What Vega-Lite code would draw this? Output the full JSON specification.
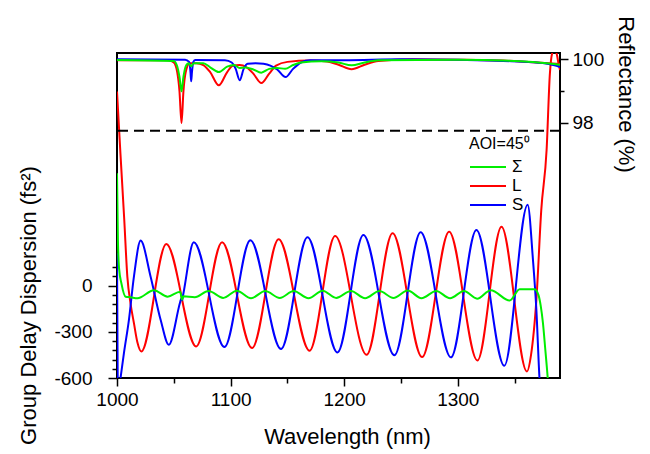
{
  "$schema": "https://vega.github.io/schema/vega-lite/v6.json",
  "width": 443,
  "height": 325,
  "autosize": "none",
  "padding": {"left": 117, "top": 53, "right": 90, "bottom": 76},
  "background": "white",
  "config": {
    "view": {"stroke": "black", "strokeWidth": 2},
    "font": "Liberation Sans",
    "axis": {
      "domain": false, "grid": false, "tickColor": "black", "tickWidth": 1.5,
      "labelColor": "black", "titleColor": "black", "labelFont": "Liberation Sans",
      "titleFont": "Liberation Sans", "titleFontWeight": "normal", "labelFontSize": 19,
      "titleFontSize": 22, "labelFlush": false, "labelOverlap": false
    }
  },
  "datasets": {
    "gdd": [
      {"wl": 1000, "s": "L", "v": 1260}, {"wl": 1003, "s": "L", "v": 860}, {"wl": 1006.4, "s": "L", "v": 426}, {"wl": 1009.1, "s": "L", "v": 58}, {"wl": 1012, "s": "L", "v": -120}, {"wl": 1014.9, "s": "L", "v": -244}, {"wl": 1018, "s": "L", "v": -370}, {"wl": 1021.4, "s": "L", "v": -428}, {"wl": 1043.4, "s": "L", "v": 270}, {"wl": 1069.7, "s": "L", "v": -395}, {"wl": 1092.5, "s": "L", "v": 281}, {"wl": 1118.9, "s": "L", "v": -406}, {"wl": 1142.3, "s": "L", "v": 300}, {"wl": 1169.5, "s": "L", "v": -423}, {"wl": 1192, "s": "L", "v": 322}, {"wl": 1219.8, "s": "L", "v": -449}, {"wl": 1242.6, "s": "L", "v": 340}, {"wl": 1268.6, "s": "L", "v": -464}, {"wl": 1292.4, "s": "L", "v": 350}, {"wl": 1317.3, "s": "L", "v": -486}, {"wl": 1338.5, "s": "L", "v": 382}, {"wl": 1360.9, "s": "L", "v": -557}, {"wl": 1364.5, "s": "L", "v": -450}, {"wl": 1369.2, "s": "L", "v": -93}, {"wl": 1373.5, "s": "L", "v": 490}, {"wl": 1378.2, "s": "L", "v": 880}, {"wl": 1381.1, "s": "L", "v": 1376}, {"wl": 1383, "s": "L", "v": 1505}, {"wl": 1385.5, "s": "L", "v": 1540}, {"wl": 1387.5, "s": "L", "v": 1490}, {"wl": 1388.5, "s": "L", "v": 1450}, {"wl": 1390, "s": "L", "v": 1400},
      {"wl": 1000, "s": "S", "v": 210}, {"wl": 1000.6, "s": "S", "v": -600}, {"wl": 1001.8, "s": "S", "v": -680}, {"wl": 1003.3, "s": "S", "v": -590}, {"wl": 1006.1, "s": "S", "v": -438}, {"wl": 1010.5, "s": "S", "v": -222}, {"wl": 1014.9, "s": "S", "v": 58}, {"wl": 1020.8, "s": "S", "v": 292}, {"wl": 1029.6, "s": "S", "v": 58}, {"wl": 1038.4, "s": "S", "v": -222}, {"wl": 1045.6, "s": "S", "v": -384}, {"wl": 1055.5, "s": "S", "v": -110}, {"wl": 1056.5, "s": "S", "v": -85}, {"wl": 1057.3, "s": "S", "v": -95}, {"wl": 1058.5, "s": "S", "v": -50}, {"wl": 1067.6, "s": "S", "v": 281}, {"wl": 1094.6, "s": "S", "v": -399}, {"wl": 1117.4, "s": "S", "v": 294}, {"wl": 1144.4, "s": "S", "v": -412}, {"wl": 1167.7, "s": "S", "v": 313}, {"wl": 1194.1, "s": "S", "v": -434}, {"wl": 1216.9, "s": "S", "v": 328}, {"wl": 1244.2, "s": "S", "v": -453}, {"wl": 1267.3, "s": "S", "v": 346}, {"wl": 1294, "s": "S", "v": -466}, {"wl": 1316.4, "s": "S", "v": 361}, {"wl": 1341, "s": "S", "v": -520}, {"wl": 1361.5, "s": "S", "v": 525}, {"wl": 1366.2, "s": "S", "v": 167}, {"wl": 1369.2, "s": "S", "v": -157}, {"wl": 1372, "s": "S", "v": -611}, {"wl": 1374, "s": "S", "v": -800},
      {"wl": 1000, "s": "Σ", "v": 730}, {"wl": 1000.8, "s": "Σ", "v": 300}, {"wl": 1001.8, "s": "Σ", "v": 113}, {"wl": 1004, "s": "Σ", "v": 10}, {"wl": 1007.6, "s": "Σ", "v": -72}, {"wl": 1012, "s": "Σ", "v": -76}, {"wl": 1018, "s": "Σ", "v": -82}, {"wl": 1032.5, "s": "Σ", "v": -30}, {"wl": 1044.5, "s": "Σ", "v": -72}, {"wl": 1055.6, "s": "Σ", "v": -40}, {"wl": 1057.3, "s": "Σ", "v": -92}, {"wl": 1058.4, "s": "Σ", "v": -70}, {"wl": 1068.5, "s": "Σ", "v": -75}, {"wl": 1080.6, "s": "Σ", "v": -35}, {"wl": 1093.5, "s": "Σ", "v": -80}, {"wl": 1105.5, "s": "Σ", "v": -33}, {"wl": 1118, "s": "Σ", "v": -82}, {"wl": 1130.5, "s": "Σ", "v": -35}, {"wl": 1143.3, "s": "Σ", "v": -80}, {"wl": 1155.6, "s": "Σ", "v": -35}, {"wl": 1168.6, "s": "Σ", "v": -82}, {"wl": 1181, "s": "Σ", "v": -33}, {"wl": 1193, "s": "Σ", "v": -80}, {"wl": 1206, "s": "Σ", "v": -35}, {"wl": 1218.4, "s": "Σ", "v": -82}, {"wl": 1231, "s": "Σ", "v": -35}, {"wl": 1243.4, "s": "Σ", "v": -80}, {"wl": 1256, "s": "Σ", "v": -32}, {"wl": 1268, "s": "Σ", "v": -82}, {"wl": 1281, "s": "Σ", "v": -35}, {"wl": 1293.2, "s": "Σ", "v": -82}, {"wl": 1305.5, "s": "Σ", "v": -35}, {"wl": 1317, "s": "Σ", "v": -85}, {"wl": 1329, "s": "Σ", "v": -30}, {"wl": 1345.7, "s": "Σ", "v": -97}, {"wl": 1354.5, "s": "Σ", "v": -23}, {"wl": 1367.6, "s": "Σ", "v": -23}, {"wl": 1371, "s": "Σ", "v": -60}, {"wl": 1373, "s": "Σ", "v": -130}, {"wl": 1375, "s": "Σ", "v": -244}, {"wl": 1377, "s": "Σ", "v": -410}, {"wl": 1379.3, "s": "Σ", "v": -611}, {"wl": 1381, "s": "Σ", "v": -800}
    ],
    "refl": [
      {"wl": 1000, "s": "L", "r": 99.97}, {"wl": 1045, "s": "L", "r": 99.97}, {"wl": 1050, "s": "L", "r": 99.9}, {"wl": 1053, "s": "L", "r": 99.6}, {"wl": 1055, "s": "L", "r": 99.0}, {"wl": 1056.8, "s": "L", "r": 97.99}, {"wl": 1058.5, "s": "L", "r": 99.0}, {"wl": 1060.5, "s": "L", "r": 99.6}, {"wl": 1064, "s": "L", "r": 99.88}, {"wl": 1070, "s": "L", "r": 99.88}, {"wl": 1076, "s": "L", "r": 99.82}, {"wl": 1082, "s": "L", "r": 99.6}, {"wl": 1089.6, "s": "L", "r": 99.18}, {"wl": 1097, "s": "L", "r": 99.6}, {"wl": 1102, "s": "L", "r": 99.8}, {"wl": 1108, "s": "L", "r": 99.82}, {"wl": 1114, "s": "L", "r": 99.75}, {"wl": 1120, "s": "L", "r": 99.55}, {"wl": 1127.1, "s": "L", "r": 99.25}, {"wl": 1134, "s": "L", "r": 99.55}, {"wl": 1140, "s": "L", "r": 99.8}, {"wl": 1150, "s": "L", "r": 99.92}, {"wl": 1170, "s": "L", "r": 99.96}, {"wl": 1185, "s": "L", "r": 99.93}, {"wl": 1195, "s": "L", "r": 99.83}, {"wl": 1206.5, "s": "L", "r": 99.69}, {"wl": 1218, "s": "L", "r": 99.83}, {"wl": 1230, "s": "L", "r": 99.95}, {"wl": 1260, "s": "L", "r": 100.0}, {"wl": 1300, "s": "L", "r": 99.99}, {"wl": 1340, "s": "L", "r": 99.96}, {"wl": 1370, "s": "L", "r": 99.9}, {"wl": 1390, "s": "L", "r": 99.85},
      {"wl": 1000, "s": "S", "r": 100.0}, {"wl": 1060, "s": "S", "r": 99.99}, {"wl": 1063.5, "s": "S", "r": 99.92}, {"wl": 1064.7, "s": "S", "r": 99.6}, {"wl": 1065.3, "s": "S", "r": 99.31}, {"wl": 1066, "s": "S", "r": 99.6}, {"wl": 1067.2, "s": "S", "r": 99.92}, {"wl": 1069, "s": "S", "r": 99.98}, {"wl": 1095, "s": "S", "r": 99.97}, {"wl": 1101, "s": "S", "r": 99.9}, {"wl": 1104.5, "s": "S", "r": 99.7}, {"wl": 1108, "s": "S", "r": 99.34}, {"wl": 1111.5, "s": "S", "r": 99.7}, {"wl": 1115, "s": "S", "r": 99.86}, {"wl": 1122, "s": "S", "r": 99.88}, {"wl": 1129, "s": "S", "r": 99.86}, {"wl": 1135, "s": "S", "r": 99.8}, {"wl": 1141, "s": "S", "r": 99.68}, {"wl": 1148.4, "s": "S", "r": 99.44}, {"wl": 1155, "s": "S", "r": 99.7}, {"wl": 1162, "s": "S", "r": 99.9}, {"wl": 1170, "s": "S", "r": 99.97}, {"wl": 1200, "s": "S", "r": 99.97}, {"wl": 1250, "s": "S", "r": 100.0}, {"wl": 1300, "s": "S", "r": 99.99}, {"wl": 1340, "s": "S", "r": 99.95}, {"wl": 1366, "s": "S", "r": 99.91}, {"wl": 1380, "s": "S", "r": 99.85}, {"wl": 1390, "s": "S", "r": 99.76},
      {"wl": 1000, "s": "Σ", "r": 99.98}, {"wl": 1050, "s": "Σ", "r": 99.95}, {"wl": 1053, "s": "Σ", "r": 99.78}, {"wl": 1055, "s": "Σ", "r": 99.45}, {"wl": 1056.8, "s": "Σ", "r": 98.99}, {"wl": 1058.5, "s": "Σ", "r": 99.45}, {"wl": 1060.5, "s": "Σ", "r": 99.78}, {"wl": 1063, "s": "Σ", "r": 99.88}, {"wl": 1065.3, "s": "Σ", "r": 99.78}, {"wl": 1067.5, "s": "Σ", "r": 99.88}, {"wl": 1076, "s": "Σ", "r": 99.88}, {"wl": 1082, "s": "Σ", "r": 99.75}, {"wl": 1089.6, "s": "Σ", "r": 99.6}, {"wl": 1097, "s": "Σ", "r": 99.77}, {"wl": 1103, "s": "Σ", "r": 99.82}, {"wl": 1108, "s": "Σ", "r": 99.73}, {"wl": 1113, "s": "Σ", "r": 99.74}, {"wl": 1120, "s": "Σ", "r": 99.68}, {"wl": 1127, "s": "Σ", "r": 99.58}, {"wl": 1134, "s": "Σ", "r": 99.7}, {"wl": 1141, "s": "Σ", "r": 99.73}, {"wl": 1148, "s": "Σ", "r": 99.7}, {"wl": 1155, "s": "Σ", "r": 99.82}, {"wl": 1162, "s": "Σ", "r": 99.9}, {"wl": 1180, "s": "Σ", "r": 99.94}, {"wl": 1195, "s": "Σ", "r": 99.9}, {"wl": 1206.5, "s": "Σ", "r": 99.81}, {"wl": 1218, "s": "Σ", "r": 99.9}, {"wl": 1230, "s": "Σ", "r": 99.97}, {"wl": 1300, "s": "Σ", "r": 99.99}, {"wl": 1366, "s": "Σ", "r": 99.92}, {"wl": 1390, "s": "Σ", "r": 99.83}
    ]
  },
  "layer": [
    {
      "data": {"name": "gdd"},
      "mark": {"type": "line", "strokeWidth": 2, "interpolate": "monotone", "clip": true},
      "encoding": {
        "x": {
          "field": "wl", "type": "quantitative",
          "scale": {"domain": [1000, 1390], "nice": false, "zero": false},
          "axis": {
            "title": "Wavelength (nm)", "values": [1000, 1050, 1100, 1150, 1200, 1250, 1300, 1350],
            "labelExpr": "datum.value % 100 == 0 ? toString(datum.value) : ''",
            "tickSize": {"condition": {"test": "datum.value % 100 == 0", "value": 8}, "value": 5},
            "labelPadding": 4, "titleX": 230, "titleY": 65, "titleBaseline": "alphabetic", "titleAlign": "center"
          }
        },
        "y": {
          "field": "v", "type": "quantitative",
          "scale": {"domain": [-600, 1510], "nice": false, "zero": false},
          "axis": {
            "title": "Group Delay Dispersion (fs²)", "orient": "left",
            "values": [-600, -540, -480, -420, -360, -300, -240, -180, -120, -60, 0, 60, 120],
            "labelExpr": "datum.value % 300 == 0 ? toString(datum.value) : ''",
            "tickSize": {"condition": {"test": "datum.value % 300 == 0", "value": 9}, "value": 5},
            "labelPadding": 16, "titleAngle": -90, "titleX": -89, "titleY": 252, "titleBaseline": "middle", "titleAlign": "center"
          }
        },
        "color": {
          "field": "s", "type": "nominal",
          "scale": {"domain": ["Σ", "L", "S"], "range": ["#00ee00", "#ff0000", "#0000ff"]},
          "legend": {
            "orient": "none", "legendX": 352, "legendY": 83, "title": "AOI=45⁰",
            "titleFontSize": 16, "titleFontWeight": "normal", "titleColor": "black", "titleFont": "Liberation Sans",
            "titlePadding": 4, "labelFontSize": 17, "labelColor": "black", "labelFont": "Liberation Sans",
            "symbolType": "M-1,0H2.6", "symbolSize": 400, "symbolStrokeWidth": 2, "labelOffset": 21,
            "rowPadding": 0, "padding": 0
          }
        }
      }
    },
    {
      "layer": [
        {
          "data": {"name": "refl"},
          "mark": {"type": "line", "strokeWidth": 2, "interpolate": "monotone", "clip": true},
          "encoding": {
            "x": {
              "field": "wl", "type": "quantitative",
              "scale": {"domain": [1000, 1390], "nice": false, "zero": false},
              "axis": {
                "title": "Wavelength (nm)", "values": [1000, 1050, 1100, 1150, 1200, 1250, 1300, 1350],
                "labelExpr": "datum.value % 100 == 0 ? toString(datum.value) : ''",
                "tickSize": {"condition": {"test": "datum.value % 100 == 0", "value": 8}, "value": 5},
                "labelPadding": 4, "titleX": 230, "titleY": 65, "titleBaseline": "alphabetic", "titleAlign": "center"
              }
            },
            "y": {
              "field": "r", "type": "quantitative",
              "scale": {"domain": [89.95, 100.2], "nice": false, "zero": false},
              "axis": {
                "title": "Reflectance (%)", "orient": "right", "values": [98, 99, 100],
                "labelExpr": "datum.value == 99 ? '' : toString(datum.value)",
                "tickSize": {"condition": {"test": "datum.value == 99", "value": 4}, "value": 8},
                "labelPadding": 4, "titleAngle": 90, "titleX": 65, "titleY": 41, "titleBaseline": "middle", "titleAlign": "center"
              }
            },
            "color": {"field": "s", "type": "nominal", "scale": {"domain": ["Σ", "L", "S"], "range": ["#00ee00", "#ff0000", "#0000ff"]}, "legend": null}
          }
        },
        {
          "data": {"values": [{"r": 97.75}]},
          "mark": {"type": "rule", "strokeDash": [10, 6], "strokeWidth": 2, "color": "black"},
          "encoding": {
            "y": {
              "field": "r", "type": "quantitative",
              "scale": {"domain": [89.95, 100.2], "nice": false, "zero": false},
              "axis": {
                "title": "Reflectance (%)", "orient": "right", "values": [98, 99, 100],
                "labelExpr": "datum.value == 99 ? '' : toString(datum.value)",
                "tickSize": {"condition": {"test": "datum.value == 99", "value": 4}, "value": 8},
                "labelPadding": 4, "titleAngle": 90, "titleX": 65, "titleY": 41, "titleBaseline": "middle", "titleAlign": "center"
              }
            }
          }
        }
      ]
    }
  ],
  "resolve": {"scale": {"y": "independent"}}
}
